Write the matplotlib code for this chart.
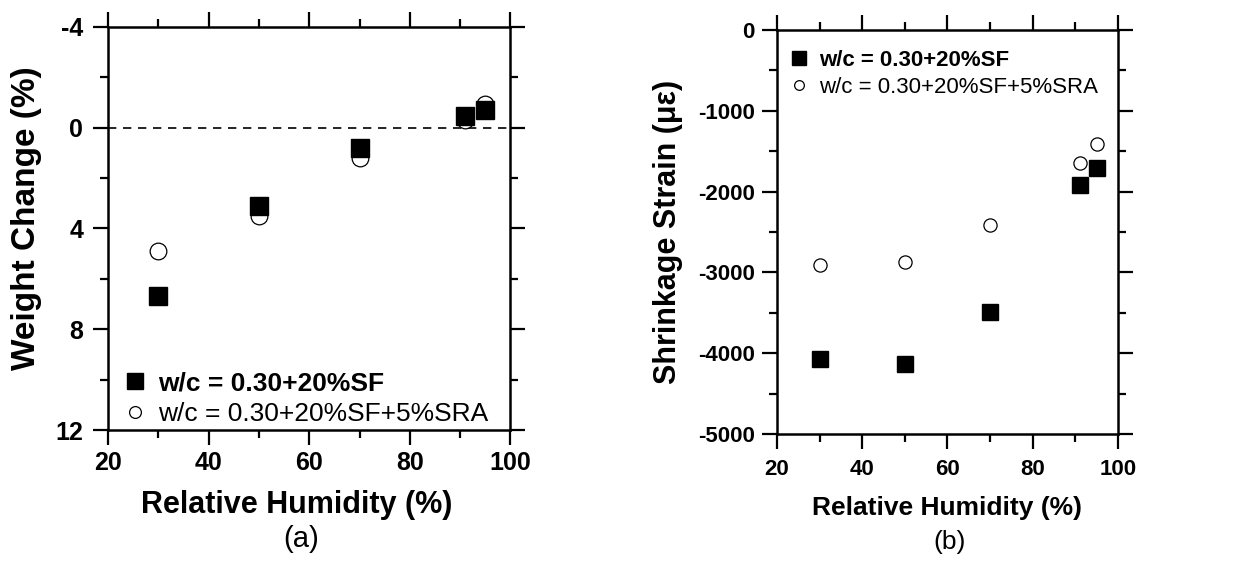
import matplotlib.pyplot as plt
from matplotlib.ticker import MultipleLocator
from matplotlib.lines import Line2D

plt.rcParams['font.family'] = ['Liberation Sans', 'DejaVu Sans']
plt.rcParams['axes.unicode_minus'] = False

rh = [30, 50, 70, 91, 95]  # relative humidity (%)

# (a) weight change (%)
wt_sf = [6.7, 3.1, 0.8, -0.45, -0.7]
wt_sra = [4.9, 3.5, 1.2, -0.3, -0.95]

# (b) shrinkage strain (microstrain)
sh_sf = [-4070, -4130, -3490, -1920, -1710]
sh_sra = [-2910, -2870, -2410, -1650, -1410]

lab_sf = 'w/c = 0.30+20%SF'
lab_sra = 'w/c = 0.30+20%SF+5%SRA'

fig = plt.figure(figsize=(12.36, 5.61), dpi=100)
ax1 = fig.add_axes([0.0874, 0.2335, 0.3256, 0.7185])
ax2 = fig.add_axes([0.6286, 0.2264, 0.2759, 0.7201])


def style(ax, fs, xpad, ypad):
    for s in ax.spines.values():
        s.set_linewidth(1.8)
    ax.tick_params(which='both', direction='out', top=True, right=True, width=1.6,
                   labelsize=fs)
    ax.tick_params(which='major', length=11)
    ax.tick_params(which='minor', length=6)
    ax.tick_params(axis='x', pad=xpad)
    ax.tick_params(axis='y', pad=ypad)
    for t in ax.get_xticklabels() + ax.get_yticklabels():
        t.set_fontweight('bold')
    ax.set_xlim(20, 100)
    ax.xaxis.set_major_locator(MultipleLocator(20))
    ax.xaxis.set_minor_locator(MultipleLocator(10))


def legend(ax, loc, anchor, fs, ms_sq, ms_ci):
    h = [Line2D([], [], ls='none', marker='s', ms=ms_sq, mfc='black', mec='black'),
         Line2D([], [], ls='none', marker='o', ms=ms_ci, mfc='white', mec='black', mew=0.9)]
    leg = ax.legend(h, [lab_sf, lab_sra], loc=loc, bbox_to_anchor=anchor, frameon=False,
                    fontsize=fs, handletextpad=0.5, handlelength=0.8, borderaxespad=0,
                    borderpad=0, labelspacing=0.25)
    leg.get_texts()[0].set_fontweight('bold')
    return leg


# panel (a)
ax1.plot(rh, wt_sf, ls='none', marker='s', ms=13, mfc='black', mec='black', zorder=3)
ax1.plot(rh, wt_sra, ls='none', marker='o', ms=12, mfc='white', mec='black', mew=0.9, zorder=2)
ax1.axhline(0, color='black', ls=(0, (5, 4)), lw=1.2, zorder=1)
ax1.set_ylim(12, -4)
ax1.yaxis.set_major_locator(MultipleLocator(4))
ax1.yaxis.set_minor_locator(MultipleLocator(2))
style(ax1, 18, 4, 7)
ax1.set_xlabel('Relative Humidity (%)', fontsize=22, fontweight='bold')
ax1.xaxis.set_label_coords(0.47, -0.15)
ax1.set_ylabel('Weight Change (%)', fontsize=24, fontweight='bold')
ax1.yaxis.set_label_coords(-0.164, 0.526)
legend(ax1, 'lower left', (0.04, 0.01), 19, 11, 8.5)
ax1.text(0.48, -0.27, '(a)', transform=ax1.transAxes, ha='center', va='center', fontsize=21)

# panel (b)
ax2.plot(rh, sh_sf, ls='none', marker='s', ms=11, mfc='black', mec='black', zorder=3)
ax2.plot(rh, sh_sra, ls='none', marker='o', ms=9.5, mfc='white', mec='black', mew=0.9, zorder=2)
ax2.set_ylim(-5000, 0)
ax2.yaxis.set_major_locator(MultipleLocator(1000))
ax2.yaxis.set_minor_locator(MultipleLocator(500))
style(ax2, 16, 7, 5)
ax2.set_xlabel('Relative Humidity (%)', fontsize=19, fontweight='bold')
ax2.xaxis.set_label_coords(0.5, -0.153)
ax2.set_ylabel('Shrinkage Strain (με)', fontsize=22, fontweight='bold')
ax2.yaxis.set_label_coords(-0.275, 0.50)
legend(ax2, 'upper left', (0.04, 0.95), 16, 9.5, 7)
ax2.text(0.507, -0.267, '(b)', transform=ax2.transAxes, ha='center', va='center', fontsize=19)

fig.savefig('out.png', dpi=100)
